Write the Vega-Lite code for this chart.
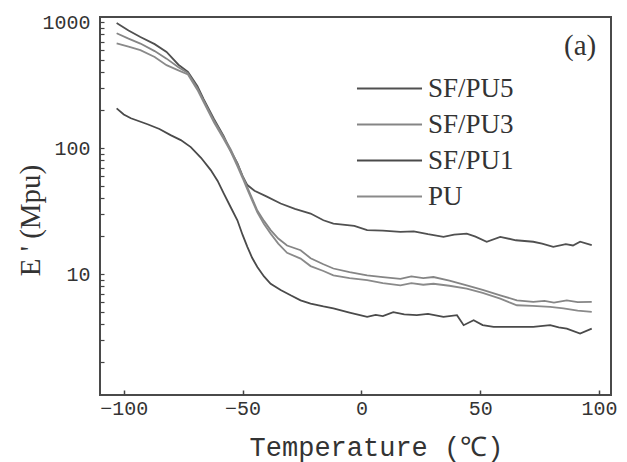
{
  "$schema": "https://vega.github.io/schema/vega-lite/v6.json",
  "width": 511,
  "height": 378,
  "autosize": "none",
  "padding": {"left": 100, "top": 17, "right": 16, "bottom": 67},
  "background": "white",
  "config": {
    "view": {"stroke": "#4a4a4a", "strokeWidth": 2},
    "axis": {"grid": false, "domain": false}
  },
  "datasets": {
    "curves": [
      {"s": "SF/PU5", "x": -103, "y": 986}, {"s": "SF/PU5", "x": -98, "y": 860}, {"s": "SF/PU5", "x": -93, "y": 764}, {"s": "SF/PU5", "x": -87, "y": 670}, {"s": "SF/PU5", "x": -82, "y": 581}, {"s": "SF/PU5", "x": -77, "y": 460}, {"s": "SF/PU5", "x": -73, "y": 404}, {"s": "SF/PU5", "x": -69, "y": 310}, {"s": "SF/PU5", "x": -66.4, "y": 245}, {"s": "SF/PU5", "x": -62, "y": 170}, {"s": "SF/PU5", "x": -58, "y": 125}, {"s": "SF/PU5", "x": -55, "y": 95}, {"s": "SF/PU5", "x": -52.2, "y": 76}, {"s": "SF/PU5", "x": -50, "y": 60}, {"s": "SF/PU5", "x": -48, "y": 51}, {"s": "SF/PU5", "x": -45, "y": 46}, {"s": "SF/PU5", "x": -40, "y": 41.5}, {"s": "SF/PU5", "x": -34, "y": 36.4}, {"s": "SF/PU5", "x": -28, "y": 33}, {"s": "SF/PU5", "x": -21.4, "y": 30.3}, {"s": "SF/PU5", "x": -16, "y": 26.8}, {"s": "SF/PU5", "x": -11.8, "y": 25.2}, {"s": "SF/PU5", "x": -3, "y": 24.2}, {"s": "SF/PU5", "x": 2.4, "y": 22.4}, {"s": "SF/PU5", "x": 9, "y": 22.2}, {"s": "SF/PU5", "x": 16.4, "y": 21.7}, {"s": "SF/PU5", "x": 22, "y": 21.9}, {"s": "SF/PU5", "x": 28, "y": 20.8}, {"s": "SF/PU5", "x": 34.5, "y": 19.8}, {"s": "SF/PU5", "x": 39, "y": 20.6}, {"s": "SF/PU5", "x": 44.3, "y": 21}, {"s": "SF/PU5", "x": 48, "y": 19.9}, {"s": "SF/PU5", "x": 52.7, "y": 18.1}, {"s": "SF/PU5", "x": 58.4, "y": 19.8}, {"s": "SF/PU5", "x": 65, "y": 18.6}, {"s": "SF/PU5", "x": 72.3, "y": 18.1}, {"s": "SF/PU5", "x": 76, "y": 17.5}, {"s": "SF/PU5", "x": 80.7, "y": 16.5}, {"s": "SF/PU5", "x": 86, "y": 17.3}, {"s": "SF/PU5", "x": 89, "y": 16.9}, {"s": "SF/PU5", "x": 92, "y": 18.1}, {"s": "SF/PU5", "x": 96.9, "y": 17},

      {"s": "SF/PU3", "x": -103, "y": 818}, {"s": "SF/PU3", "x": -98, "y": 740}, {"s": "SF/PU3", "x": -93, "y": 677}, {"s": "SF/PU3", "x": -87, "y": 590}, {"s": "SF/PU3", "x": -82, "y": 514}, {"s": "SF/PU3", "x": -77, "y": 440}, {"s": "SF/PU3", "x": -73, "y": 395}, {"s": "SF/PU3", "x": -69, "y": 300}, {"s": "SF/PU3", "x": -66.4, "y": 240}, {"s": "SF/PU3", "x": -62, "y": 165}, {"s": "SF/PU3", "x": -58, "y": 123}, {"s": "SF/PU3", "x": -55, "y": 98}, {"s": "SF/PU3", "x": -52.2, "y": 75}, {"s": "SF/PU3", "x": -50, "y": 60}, {"s": "SF/PU3", "x": -48, "y": 49}, {"s": "SF/PU3", "x": -46, "y": 40}, {"s": "SF/PU3", "x": -43.8, "y": 32}, {"s": "SF/PU3", "x": -41, "y": 26.5}, {"s": "SF/PU3", "x": -38.2, "y": 22.4}, {"s": "SF/PU3", "x": -35, "y": 19.2}, {"s": "SF/PU3", "x": -31.3, "y": 16.9}, {"s": "SF/PU3", "x": -25.6, "y": 15.5}, {"s": "SF/PU3", "x": -21.4, "y": 13.4}, {"s": "SF/PU3", "x": -16, "y": 12.0}, {"s": "SF/PU3", "x": -11.8, "y": 11.1}, {"s": "SF/PU3", "x": -5, "y": 10.4}, {"s": "SF/PU3", "x": 2.4, "y": 9.8}, {"s": "SF/PU3", "x": 9, "y": 9.5}, {"s": "SF/PU3", "x": 16.4, "y": 9.2}, {"s": "SF/PU3", "x": 21, "y": 9.6}, {"s": "SF/PU3", "x": 26, "y": 9.3}, {"s": "SF/PU3", "x": 30.3, "y": 9.5}, {"s": "SF/PU3", "x": 37, "y": 8.9}, {"s": "SF/PU3", "x": 44.3, "y": 8.17}, {"s": "SF/PU3", "x": 51, "y": 7.5}, {"s": "SF/PU3", "x": 58.4, "y": 6.8}, {"s": "SF/PU3", "x": 65.4, "y": 6.2}, {"s": "SF/PU3", "x": 72.3, "y": 6.03}, {"s": "SF/PU3", "x": 77, "y": 6.15}, {"s": "SF/PU3", "x": 81, "y": 5.95}, {"s": "SF/PU3", "x": 86.4, "y": 6.2}, {"s": "SF/PU3", "x": 91, "y": 6.0}, {"s": "SF/PU3", "x": 96.9, "y": 6.03},

      {"s": "PU", "x": -103, "y": 678}, {"s": "PU", "x": -98, "y": 640}, {"s": "PU", "x": -93, "y": 600}, {"s": "PU", "x": -87, "y": 530}, {"s": "PU", "x": -82, "y": 456}, {"s": "PU", "x": -77, "y": 415}, {"s": "PU", "x": -73, "y": 385}, {"s": "PU", "x": -69, "y": 290}, {"s": "PU", "x": -66.4, "y": 232}, {"s": "PU", "x": -62, "y": 160}, {"s": "PU", "x": -58, "y": 119}, {"s": "PU", "x": -55, "y": 94}, {"s": "PU", "x": -52.2, "y": 72}, {"s": "PU", "x": -50, "y": 58}, {"s": "PU", "x": -48, "y": 47}, {"s": "PU", "x": -46, "y": 38.5}, {"s": "PU", "x": -43.8, "y": 31}, {"s": "PU", "x": -41, "y": 25}, {"s": "PU", "x": -38.2, "y": 21}, {"s": "PU", "x": -35, "y": 17.5}, {"s": "PU", "x": -31.3, "y": 14.8}, {"s": "PU", "x": -25.6, "y": 13.3}, {"s": "PU", "x": -21.4, "y": 11.6}, {"s": "PU", "x": -16, "y": 10.6}, {"s": "PU", "x": -11.8, "y": 9.8}, {"s": "PU", "x": -5, "y": 9.3}, {"s": "PU", "x": 2.4, "y": 8.96}, {"s": "PU", "x": 9, "y": 8.5}, {"s": "PU", "x": 16.4, "y": 8.17}, {"s": "PU", "x": 21, "y": 8.5}, {"s": "PU", "x": 26, "y": 8.25}, {"s": "PU", "x": 30.3, "y": 8.4}, {"s": "PU", "x": 37, "y": 8.1}, {"s": "PU", "x": 44.3, "y": 7.7}, {"s": "PU", "x": 51, "y": 7.1}, {"s": "PU", "x": 58.4, "y": 6.4}, {"s": "PU", "x": 62, "y": 6.0}, {"s": "PU", "x": 65.4, "y": 5.67}, {"s": "PU", "x": 72, "y": 5.6}, {"s": "PU", "x": 79.4, "y": 5.5}, {"s": "PU", "x": 85, "y": 5.35}, {"s": "PU", "x": 91, "y": 5.15}, {"s": "PU", "x": 96.9, "y": 5.02},

      {"s": "SF/PU1", "x": -103, "y": 207}, {"s": "SF/PU1", "x": -100, "y": 185}, {"s": "SF/PU1", "x": -97, "y": 173}, {"s": "SF/PU1", "x": -90, "y": 155}, {"s": "SF/PU1", "x": -85, "y": 142}, {"s": "SF/PU1", "x": -80.3, "y": 127}, {"s": "SF/PU1", "x": -76, "y": 116}, {"s": "SF/PU1", "x": -71.8, "y": 102}, {"s": "SF/PU1", "x": -67.5, "y": 84}, {"s": "SF/PU1", "x": -63.4, "y": 67}, {"s": "SF/PU1", "x": -60.5, "y": 55}, {"s": "SF/PU1", "x": -58, "y": 44}, {"s": "SF/PU1", "x": -55, "y": 34}, {"s": "SF/PU1", "x": -52.2, "y": 26.8}, {"s": "SF/PU1", "x": -50, "y": 20.5}, {"s": "SF/PU1", "x": -48, "y": 16.5}, {"s": "SF/PU1", "x": -46, "y": 13.5}, {"s": "SF/PU1", "x": -43.8, "y": 11.4}, {"s": "SF/PU1", "x": -41, "y": 9.6}, {"s": "SF/PU1", "x": -38.2, "y": 8.4}, {"s": "SF/PU1", "x": -34, "y": 7.5}, {"s": "SF/PU1", "x": -29.8, "y": 6.8}, {"s": "SF/PU1", "x": -25.6, "y": 6.2}, {"s": "SF/PU1", "x": -21.4, "y": 5.85}, {"s": "SF/PU1", "x": -16, "y": 5.55}, {"s": "SF/PU1", "x": -11.8, "y": 5.35}, {"s": "SF/PU1", "x": -5, "y": 4.95}, {"s": "SF/PU1", "x": 2.4, "y": 4.58}, {"s": "SF/PU1", "x": 6, "y": 4.75}, {"s": "SF/PU1", "x": 9, "y": 4.65}, {"s": "SF/PU1", "x": 13.4, "y": 5.0}, {"s": "SF/PU1", "x": 18, "y": 4.8}, {"s": "SF/PU1", "x": 23.3, "y": 4.73}, {"s": "SF/PU1", "x": 28, "y": 4.85}, {"s": "SF/PU1", "x": 34.5, "y": 4.58}, {"s": "SF/PU1", "x": 40.2, "y": 4.73}, {"s": "SF/PU1", "x": 43, "y": 3.94}, {"s": "SF/PU1", "x": 47.2, "y": 4.31}, {"s": "SF/PU1", "x": 51, "y": 3.95}, {"s": "SF/PU1", "x": 55.6, "y": 3.82}, {"s": "SF/PU1", "x": 64, "y": 3.82}, {"s": "SF/PU1", "x": 72.3, "y": 3.82}, {"s": "SF/PU1", "x": 79.4, "y": 3.94}, {"s": "SF/PU1", "x": 83, "y": 3.78}, {"s": "SF/PU1", "x": 86.4, "y": 3.7}, {"s": "SF/PU1", "x": 92, "y": 3.38}, {"s": "SF/PU1", "x": 96.9, "y": 3.7}
    ],
    "tag": [{"label": "(a)", "x": 92, "y": 650}]
  },
  "layer": [
    {
      "data": {"name": "curves"},
      "mark": {"type": "line", "strokeWidth": 1.8},
      "encoding": {
        "x": {
          "field": "x", "type": "quantitative",
          "scale": {"domain": [-110, 105], "nice": false, "zero": false},
          "axis": {
            "values": [-100, -50, 0, 50, 100],
            "tickSize": -5, "tickColor": "#444", "tickWidth": 1.5,
            "labelFont": "Liberation Mono", "labelFontSize": 20, "labelColor": "#333", "labelPadding": 8,
            "title": "Temperature (℃)", "titleFont": "Liberation Mono", "titleFontSize": 27,
            "titleFontWeight": "normal", "titleColor": "#333",
            "titleX": 276, "titleY": 60, "titleBaseline": "alphabetic"
          }
        },
        "y": {
          "field": "y", "type": "quantitative",
          "scale": {"type": "log", "domain": [1.1, 1100], "nice": false},
          "axis": {
            "values": [2, 3, 4, 5, 6, 7, 8, 9, 10, 20, 30, 40, 50, 60, 70, 80, 90, 100, 200, 300, 400, 500, 600, 700, 800, 900, 1000],
            "labelExpr": "indexof([10, 100, 1000], datum.value) >= 0 ? format(datum.value, 'd') : ''",
            "labelOverlap": false,
            "tickSize": -4, "tickColor": "#444", "tickWidth": 1.2,
            "labelFont": "Liberation Mono", "labelFontSize": 20, "labelColor": "#333", "labelPadding": 14,
            "title": "E ' (Mpu)", "titleFont": "Liberation Serif", "titleFontSize": 29,
            "titleFontWeight": "normal", "titleColor": "#333",
            "titleX": -70, "titleY": 203, "titleAlign": "center", "titleBaseline": "middle"
          }
        },
        "color": {
          "field": "s", "type": "nominal",
          "scale": {"domain": ["SF/PU5", "SF/PU3", "SF/PU1", "PU"], "range": ["#505050", "#858585", "#4a4a4a", "#8a8a8a"]},
          "legend": {
            "orient": "none", "legendX": 276, "legendY": 58, "title": null,
            "symbolType": "M-3,0H3", "symbolSize": 470, "symbolStrokeWidth": 2,
            "labelFont": "Liberation Serif", "labelFontSize": 27, "labelColor": "#333",
            "labelOffset": 25, "rowPadding": 8
          }
        }
      }
    },
    {
      "data": {"name": "tag"},
      "mark": {"type": "text", "font": "Liberation Serif", "fontSize": 29, "align": "center", "baseline": "middle", "color": "#333"},
      "encoding": {
        "x": {"field": "x", "type": "quantitative"},
        "y": {"field": "y", "type": "quantitative"},
        "text": {"field": "label"}
      }
    }
  ]
}
